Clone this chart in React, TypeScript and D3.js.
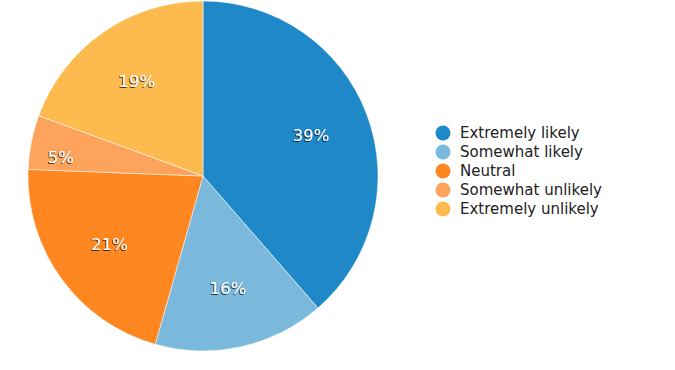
import React from "react";
import * as d3 from "d3";

const categories = ["Extremely likely", "Somewhat likely", "Neutral", "Somewhat unlikely", "Extremely unlikely"];
const values = [38.6, 15.8, 21.2, 5.0, 19.4];
const colors = ["#1f88c9", "#7ab9dc", "#fe8722", "#fda35b", "#fdbb4f"];

export default function App() {
  const W = 675, H = 370;
  const cx = 203, cy = 176, r = 175;
  const pie = d3.pie<number>().sort(null).value((d) => d)(values);
  const arc = d3.arc<d3.PieArcDatum<number>>().innerRadius(0).outerRadius(r);
  const total = d3.sum(values);
  const fmt = d3.format(".0%");
  return (
    <svg width={W} height={H} style={{ position: "absolute", left: 0, top: 0, fontFamily: "DejaVu Sans, Verdana, sans-serif" }}>
      <defs>
        <filter id="sh" x="-20%" y="-20%" width="140%" height="140%">
          <feDropShadow dx="-0.8" dy="0.9" stdDeviation="0.6" floodColor="#000" floodOpacity="0.8" />
        </filter>
      </defs>
      <g transform={`translate(${cx},${cy})`}>
        {pie.map((p, i) => (
          <path key={i} d={arc(p) as string} fill={colors[i]} stroke="#fff" strokeWidth={0.5} />
        ))}
        {pie.map((p, i) => {
          const frac = p.value / total;
          const small = frac < 0.1;
          const lr = small ? r * 0.82 : r * 0.66;
          const a = small ? (p.startAngle * 0.7 + p.endAngle * 0.3) : (p.startAngle + p.endAngle) / 2;
          const x = lr * Math.sin(a);
          const y = -lr * Math.cos(a);
          return (
            <text key={i} x={x} y={y} dy="0.35em" textAnchor="middle" fill="#fff" fontSize={16.5} filter="url(#sh)">
              {fmt(frac)}
            </text>
          );
        })}
      </g>
      <g transform="translate(443,133)">
        {categories.map((c, i) => (
          <g key={i} transform={`translate(0,${i * 19})`}>
            <circle r={7.5} fill={colors[i]} />
            <text x={17} dy="0.35em" fontSize={15} fill="#222">{c}</text>
          </g>
        ))}
      </g>
    </svg>
  );
}
